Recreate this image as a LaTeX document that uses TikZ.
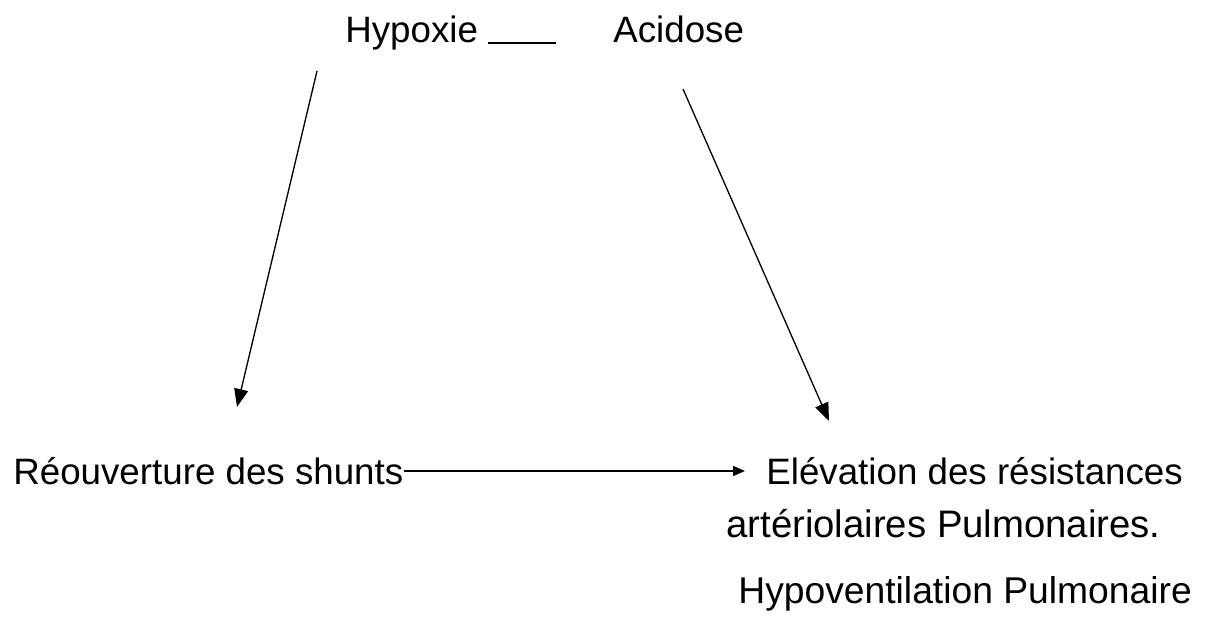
\documentclass[tikz,border=0pt]{standalone}
\usepackage{fontspec}
\setmainfont{Liberation Sans}
\usetikzlibrary{arrows.meta}

\begin{document}
\begin{tikzpicture}[
    lbl/.style={inner sep=0pt, anchor=base west, font=\fontsize{20.9}{25}\selectfont},
    arrow/.style={-{Triangle[length=0.36cm, width=0.28cm]}, line width=0.75pt},
    harrow/.style={-{Triangle[length=0.24cm, width=0.2cm]}, line width=0.8pt}
]
    \useasboundingbox (0,0) rectangle (24.22,12.52);

    % top row
    \node[lbl] (hyp) at (6.90, 11.66) {Hypoxie \rule[-0.02cm]{1.36cm}{0.04cm}};
    \node[lbl] (acid) at (12.26, 11.66) {Acidose};

    % bottom row
    \node[lbl] (shunts) at (0.26, 2.84) {Réouverture des shunts};
    \node[lbl] (elev) at (15.32, 2.84) {Elévation des résistances};
    \node[lbl, font=\fontsize{21.8}{26}\selectfont] (arter) at (14.52, 1.78) {artériolaires Pulmonaires.};
    \node[lbl, font=\fontsize{21.2}{25}\selectfont] (hypov) at (14.76, 0.46) {Hypoventilation Pulmonaire};

    % free ends of the slanted arrows
    \coordinate (hyp_from) at (6.34, 11.10);
    \coordinate (hyp_to) at (4.74, 4.38);
    \coordinate (acid_from) at (13.66, 10.74);
    \coordinate (acid_to) at (16.58, 4.10);

    % arrows
    \draw[arrow] (hyp_from) -- (hyp_to);
    \draw[arrow] (acid_from) -- (acid_to);
    \draw[harrow, shorten >=0.42cm] ([yshift=0.26cm]shunts.base east) -- ([yshift=0.26cm]elev.base west);
\end{tikzpicture}
\end{document}
